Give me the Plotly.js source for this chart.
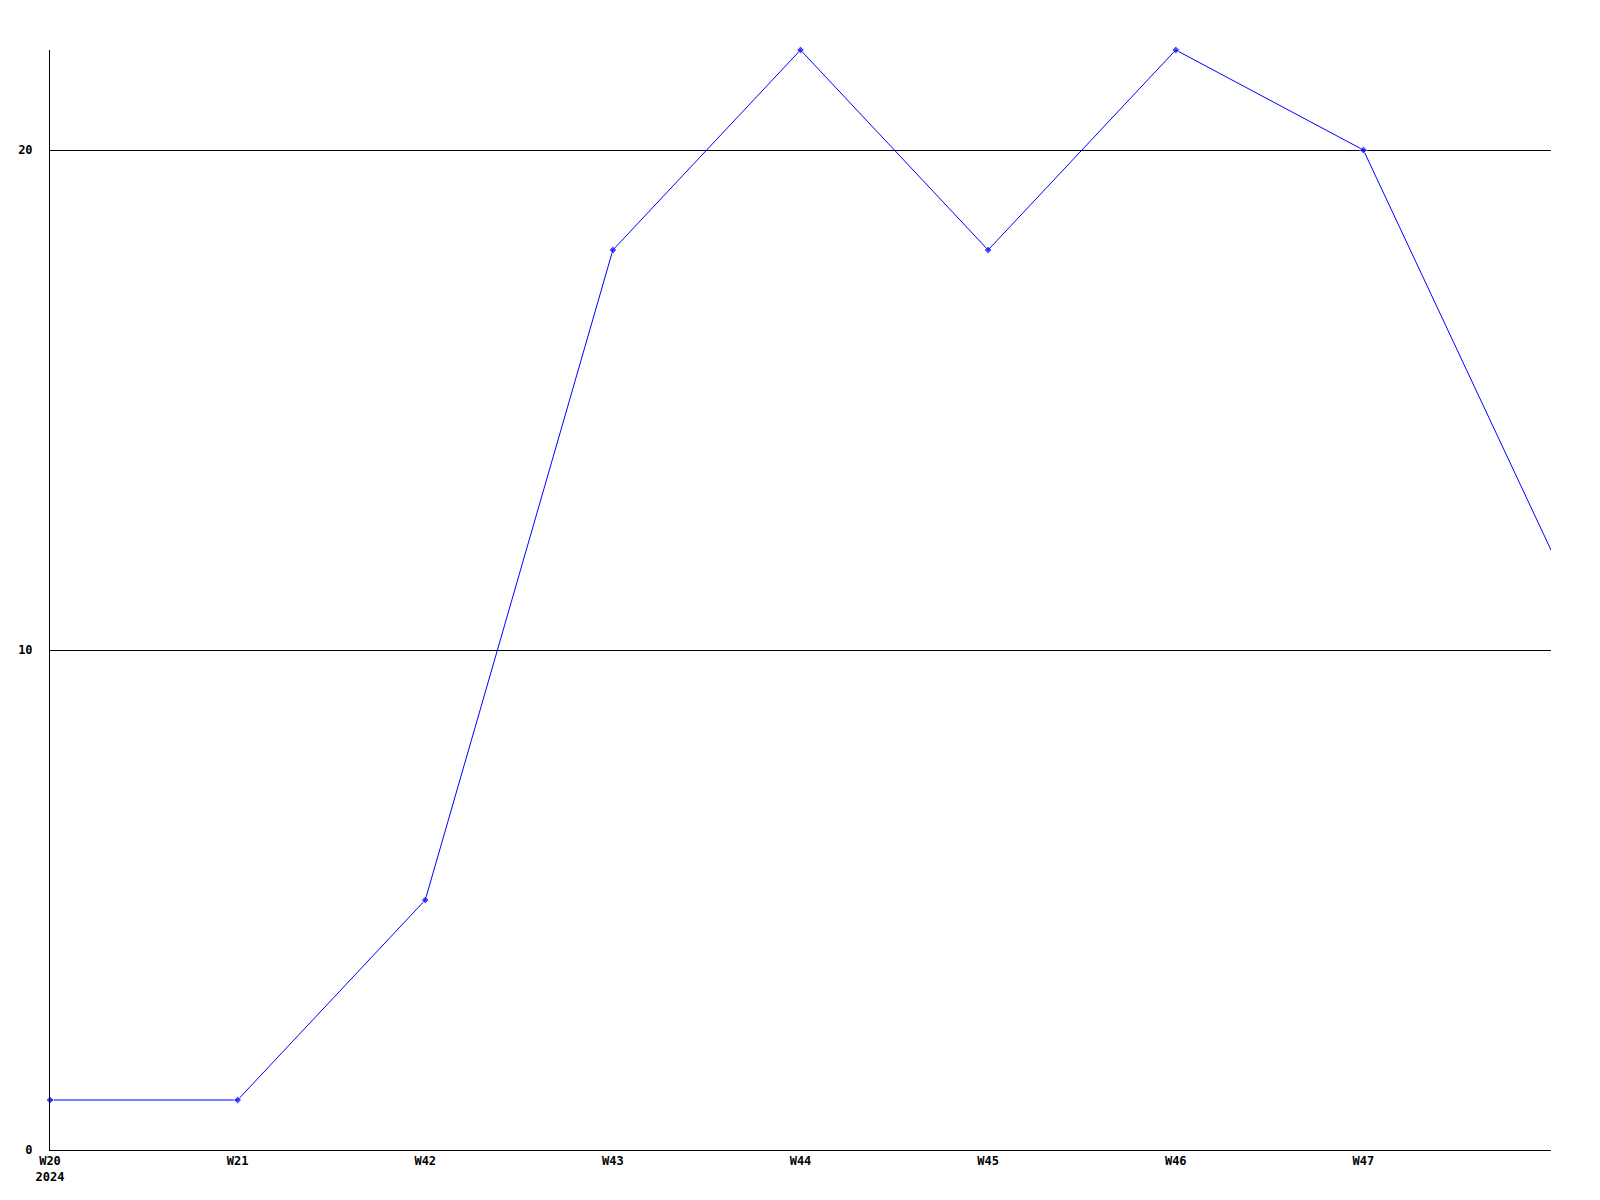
<!DOCTYPE html>
<html>
<head>
<meta charset="utf-8">
<script src="https://cdn.plot.ly/plotly-3.0.1.min.js"></script>
<style>html,body{margin:0;padding:0;background:#fff;}#chart{width:1600px;height:1200px;}</style>
</head>
<body>
<div id="chart"></div>
<script>
var weeks = ['W20', 'W21', 'W42', 'W43', 'W44', 'W45', 'W46', 'W47', 'W48'];
var values = [1, 1, 5, 18, 22, 18, 22, 20, 12];
var tickWeeks = ['W20', 'W21', 'W42', 'W43', 'W44', 'W45', 'W46', 'W47'];
var tickLabels = ['W20<br>2024', 'W21', 'W42', 'W43', 'W44', 'W45', 'W46', 'W47'];
var yTicks = [0, 10, 20];

var sizes = values.map(function (v, i) { return i === values.length - 1 ? 0 : 6; });

var trace = {
  x: weeks,
  y: values,
  type: 'scatter',
  mode: 'lines+markers',
  line: {color: '#0000ff', width: 1},
  marker: {color: '#0000ff', size: sizes, symbol: 'diamond'},
  cliponaxis: false,
  hoverinfo: 'x+y'
};

var font = {family: 'DejaVu Sans Mono, monospace', size: 12, color: '#000', weight: 'bold'};

var layout = {
  width: 1600,
  height: 1200,
  margin: {l: 50, r: 49, t: 50, b: 50},
  paper_bgcolor: '#fff',
  plot_bgcolor: '#fff',
  showlegend: false,
  xaxis: {
    type: 'category',
    range: [0, weeks.length - 1],
    tickmode: 'array',
    tickvals: tickWeeks,
    ticktext: tickLabels,
    tickfont: font,
    showgrid: false,
    zeroline: false,
    showline: true,
    linecolor: '#000',
    linewidth: 1,
    ticks: '',
    ticklen: 0
  },
  yaxis: {
    range: [0, 22],
    tickmode: 'array',
    tickvals: yTicks,
    ticktext: yTicks.map(String),
    tickfont: font,
    showgrid: true,
    gridcolor: '#000',
    gridwidth: 1,
    zeroline: false,
    showline: true,
    linecolor: '#000',
    linewidth: 1,
    ticks: '',
    ticklabelstandoff: 14
  }
};

Plotly.newPlot('chart', [trace], layout, {displayModeBar: false, staticPlot: true});
</script>
</body>
</html>
